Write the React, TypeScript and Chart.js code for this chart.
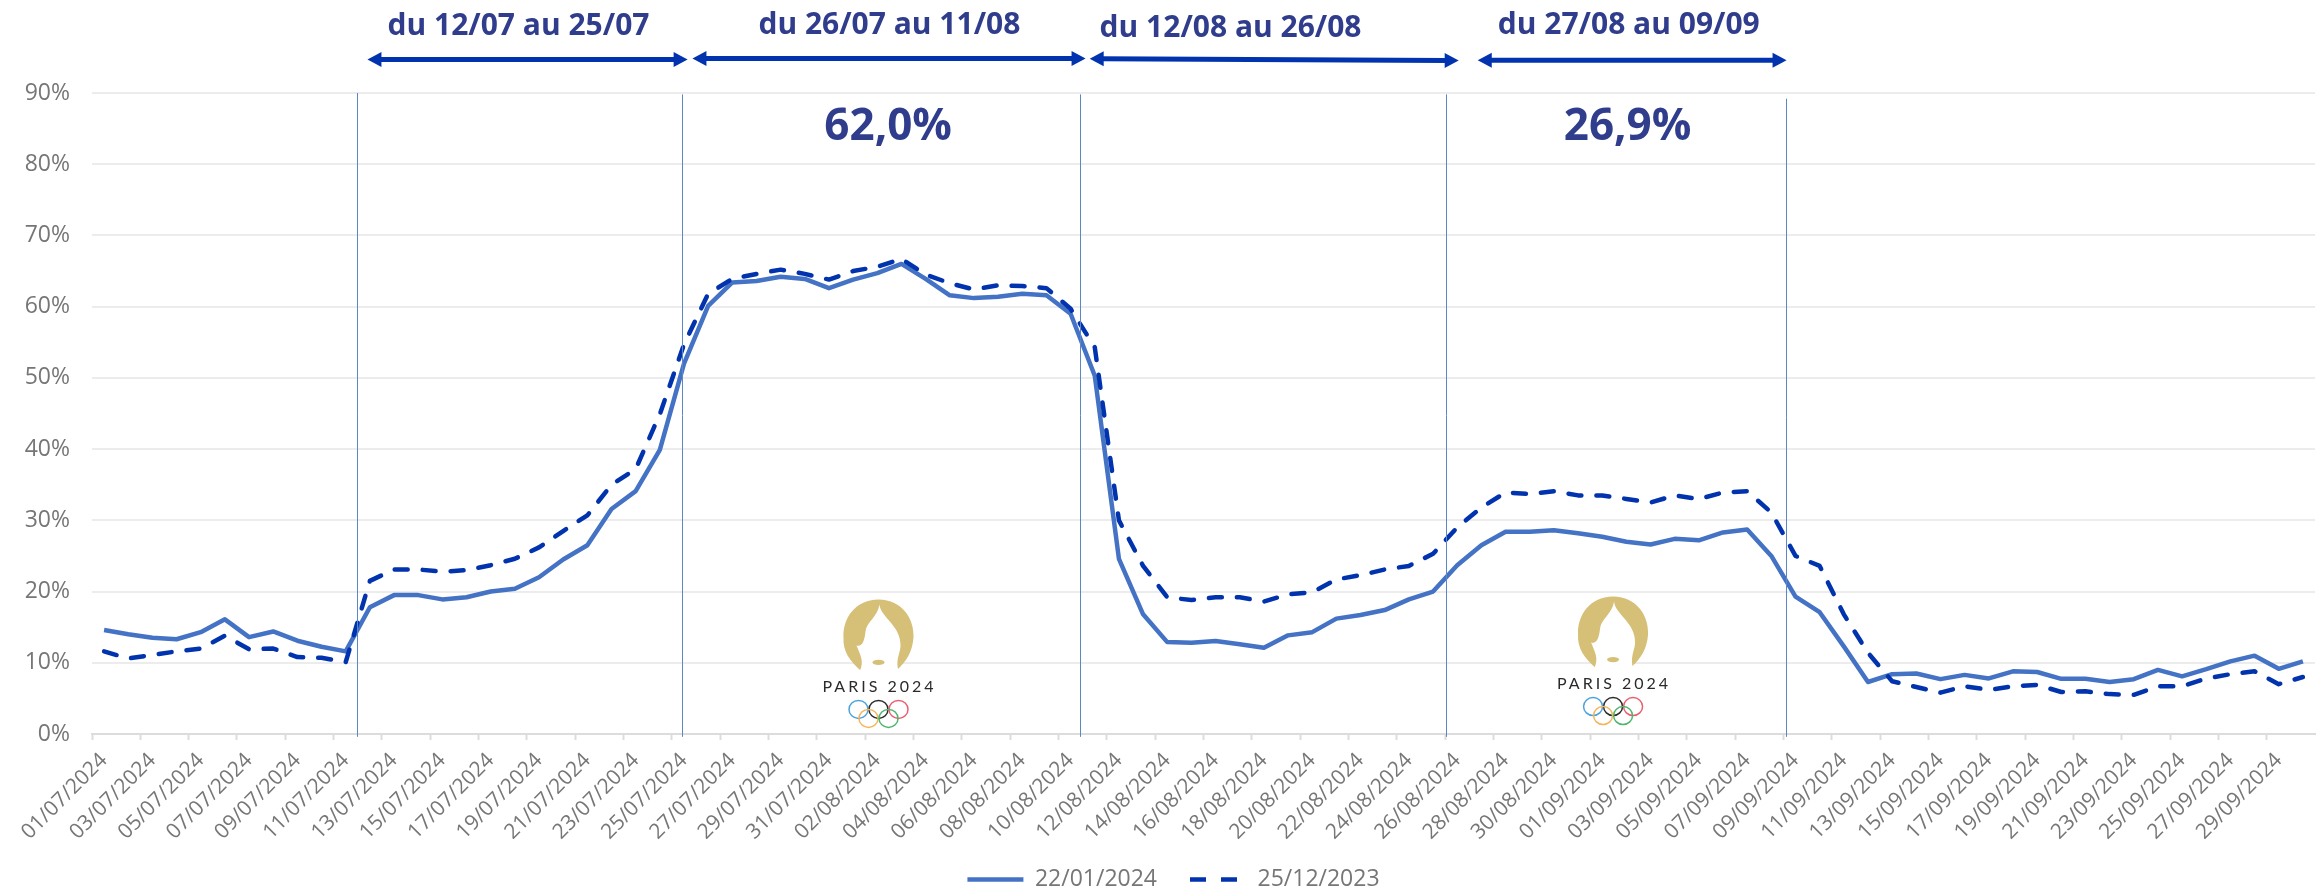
import React, { useEffect, useRef } from "react";
import { Chart, registerables } from "chart.js";

Chart.register(...registerables);

const categories = [
  "01/07/2024","02/07/2024","03/07/2024","04/07/2024","05/07/2024","06/07/2024","07/07/2024","08/07/2024","09/07/2024","10/07/2024",
  "11/07/2024","12/07/2024","13/07/2024","14/07/2024","15/07/2024","16/07/2024","17/07/2024","18/07/2024","19/07/2024","20/07/2024",
  "21/07/2024","22/07/2024","23/07/2024","24/07/2024","25/07/2024","26/07/2024","27/07/2024","28/07/2024","29/07/2024","30/07/2024",
  "31/07/2024","01/08/2024","02/08/2024","03/08/2024","04/08/2024","05/08/2024","06/08/2024","07/08/2024","08/08/2024","09/08/2024",
  "10/08/2024","11/08/2024","12/08/2024","13/08/2024","14/08/2024","15/08/2024","16/08/2024","17/08/2024","18/08/2024","19/08/2024",
  "20/08/2024","21/08/2024","22/08/2024","23/08/2024","24/08/2024","25/08/2024","26/08/2024","27/08/2024","28/08/2024","29/08/2024",
  "30/08/2024","31/08/2024","01/09/2024","02/09/2024","03/09/2024","04/09/2024","05/09/2024","06/09/2024","07/09/2024","08/09/2024",
  "09/09/2024","10/09/2024","11/09/2024","12/09/2024","13/09/2024","14/09/2024","15/09/2024","16/09/2024","17/09/2024","18/09/2024",
  "19/09/2024","20/09/2024","21/09/2024","22/09/2024","23/09/2024","24/09/2024","25/09/2024","26/09/2024","27/09/2024","28/09/2024",
  "29/09/2024","30/09/2024",
];

const series2401 = [
  14.6,14.0,13.5,13.3,14.3,16.1,13.6,14.4,13.1,12.25,
  11.6,17.8,19.5,19.5,18.9,19.2,20.0,20.4,22.0,24.5,
  26.5,31.6,34.1,39.9,52.0,60.1,63.4,63.6,64.2,63.9,
  62.6,63.8,64.7,66.0,63.9,61.6,61.2,61.4,61.8,61.6,
  59.0,50.3,24.6,16.8,12.9,12.8,13.05,12.6,12.1,13.85,
  14.3,16.2,16.7,17.4,18.9,20.0,23.7,26.5,28.4,28.4,
  28.6,28.2,27.7,27.0,26.6,27.4,27.2,28.3,28.7,25.0,
  19.3,17.1,12.3,7.3,8.4,8.5,7.7,8.3,7.8,8.8,
  8.7,7.75,7.75,7.3,7.7,9.0,8.1,9.1,10.2,11.0,
  9.15,10.2,
];

const series2512 = [
  11.6,10.6,11.1,11.6,12.0,13.8,11.9,12.0,10.8,10.7,
  10.1,21.5,23.1,23.1,22.8,23.0,23.7,24.6,26.2,28.5,
  30.7,35.0,37.2,44.9,54.7,61.8,63.9,64.6,65.2,64.6,
  63.8,65.0,65.6,66.7,64.5,63.3,62.4,63.0,62.9,62.6,
  59.7,54.3,30.0,23.6,19.2,18.8,19.2,19.2,18.6,19.6,
  19.9,21.7,22.3,23.1,23.6,25.3,29.0,31.8,33.9,33.7,
  34.1,33.5,33.5,33.0,32.5,33.5,33.0,33.9,34.1,31.1,
  25.0,23.6,16.8,11.4,7.4,6.6,5.8,6.7,6.2,6.7,
  6.9,5.9,6.0,5.6,5.5,6.7,6.7,7.8,8.4,8.8,
  7.0,8.0,
];

const yTicks = [0, 10, 20, 30, 40, 50, 60, 70, 80, 90];
const seriesNames = ["22/01/2024", "25/12/2023"];
const periodLabels = ["du 12/07 au 25/07", "du 26/07 au 11/08", "du 12/08 au 26/08", "du 27/08 au 09/09"];
const periodShares = ["62,0%", "26,9%"];

// Annotation anchors in axis units (fractional category index, axis percent)
const ruleXs = [10.45, 23.93, 40.37, 55.53, 69.6];
const ruleTops = [90, 89.8, 89.8, 89.8, 89.2];
const arrowSpans = [[10.9, 24.15, 94.7, 94.7], [24.35, 40.62, 94.85, 94.85], [40.79, 56.06, 94.8, 94.55], [56.85, 69.63, 94.6, 94.6]];
const labelAnchors = [[17.15, 99.4], [32.5, 99.55], [46.62, 99.1], [63.1, 99.55]];
const shareAnchors = [[32.45, 85.1], [63.05, 85.1]];
const logoAnchors = [[32.05, 18.9], [62.45, 19.3]];

const GREY = "#767676";
const FONT = '"Open Sans"';

function drawArrow(ctx: CanvasRenderingContext2D, x0: number, y0: number, x1: number, y1: number) {
  const head = 14;
  const half = 7.5;
  ctx.strokeStyle = "#0033ad";
  ctx.fillStyle = "#0033ad";
  ctx.lineWidth = 5;
  ctx.beginPath();
  ctx.moveTo(x0 + head - 2, y0);
  ctx.lineTo(x1 - head + 2, y1);
  ctx.stroke();
  ctx.beginPath();
  ctx.moveTo(x0, y0);
  ctx.lineTo(x0 + head, y0 - half);
  ctx.lineTo(x0 + head, y0 + half);
  ctx.closePath();
  ctx.fill();
  ctx.beginPath();
  ctx.moveTo(x1, y1);
  ctx.lineTo(x1 - head, y1 - half);
  ctx.lineTo(x1 - head, y1 + half);
  ctx.closePath();
  ctx.fill();
}

function drawLogo(ctx: CanvasRenderingContext2D, cx: number, top: number) {
  const gold = "#d6c078";
  ctx.save();
  ctx.fillStyle = gold;
  ctx.beginPath();
  ctx.moveTo(cx, top);
  ctx.bezierCurveTo(cx + 24, top, cx + 36, top + 20, cx + 35, top + 38);
  ctx.bezierCurveTo(cx + 34, top + 52, cx + 28, top + 62, cx + 18, top + 71);
  ctx.lineTo(cx - 18, top + 71);
  ctx.bezierCurveTo(cx - 28, top + 62, cx - 36, top + 52, cx - 35, top + 38);
  ctx.bezierCurveTo(cx - 36, top + 20, cx - 24, top, cx, top);
  ctx.closePath();
  ctx.fill();
  ctx.fillStyle = "#ffffff";
  ctx.beginPath();
  ctx.moveTo(cx + 1, top + 5);
  ctx.bezierCurveTo(cx + 2, top + 18, cx + 23, top + 26, cx + 22, top + 47);
  ctx.bezierCurveTo(cx + 21, top + 56, cx + 17, top + 60, cx + 20, top + 72);
  ctx.lineTo(cx - 19, top + 72);
  ctx.bezierCurveTo(cx - 14, top + 62, cx - 18, top + 56, cx - 22, top + 46);
  ctx.bezierCurveTo(cx - 17, top + 48, cx - 14, top + 42, cx - 13, top + 32);
  ctx.bezierCurveTo(cx - 12, top + 22, cx - 1, top + 18, cx + 1, top + 5);
  ctx.closePath();
  ctx.fill();
  ctx.fillStyle = gold;
  ctx.beginPath();
  ctx.ellipse(cx, top + 63, 6, 2.6, 0, 0, Math.PI * 2);
  ctx.fill();
  ctx.fillStyle = "#2a2a2a";
  ctx.font = '16px Lato';
  ctx.textAlign = "center";
  ctx.textBaseline = "middle";
  (ctx as any).letterSpacing = "3px";
  ctx.fillText("PARIS 2024", cx + 1, top + 87);
  (ctx as any).letterSpacing = "0px";
  const rings: [number, number, string][] = [
    [-20, 110, "#4aa3dc"],
    [0, 110, "#2b2b2b"],
    [20, 110, "#e8606f"],
    [-10, 119, "#f4b55a"],
    [10, 119, "#4db56e"],
  ];
  ctx.lineWidth = 1.5;
  for (const [dx, dy, color] of rings) {
    ctx.strokeStyle = color;
    ctx.beginPath();
    ctx.ellipse(cx + dx, top + dy, 9.5, 9, 0, 0, Math.PI * 2);
    ctx.stroke();
  }
  ctx.restore();
}

const annotationsPlugin = {
  id: "periodAnnotations",
  afterLayout(chart: any) {
    // tick labels are clipped to their scale's box; widen the boxes so nothing is cut
    chart.scales.y.left = 0;
    chart.scales.x.bottom = 870;
    chart.legend.left += 2;
  },
  afterDatasetsDraw(chart: any) {
    const { ctx, scales } = chart;
    const x = scales.x;
    const y = scales.y;
    ctx.save();
    ctx.strokeStyle = "#5b87c7";
    ctx.lineWidth = 1;
    ruleXs.forEach((v, i) => {
      const px = Math.round(x.getPixelForValue(v)) + 0.5;
      ctx.beginPath();
      ctx.moveTo(px, y.getPixelForValue(ruleTops[i]));
      ctx.lineTo(px, y.getPixelForValue(-0.4));
      ctx.stroke();
    });
    arrowSpans.forEach(([a, b, c, d]) => {
      drawArrow(ctx, x.getPixelForValue(a), y.getPixelForValue(c), x.getPixelForValue(b), y.getPixelForValue(d));
    });
    ctx.fillStyle = "#2f3d8c";
    ctx.textAlign = "center";
    ctx.textBaseline = "middle";
    ctx.font = `700 30px ${FONT}`;
    periodLabels.forEach((t, i) => {
      ctx.fillText(t, x.getPixelForValue(labelAnchors[i][0]), y.getPixelForValue(labelAnchors[i][1]));
    });
    ctx.font = `700 44px ${FONT}`;
    periodShares.forEach((t, i) => {
      ctx.fillText(t, x.getPixelForValue(shareAnchors[i][0]), y.getPixelForValue(shareAnchors[i][1]));
    });
    logoAnchors.forEach(([a, b]) => drawLogo(ctx, x.getPixelForValue(a), y.getPixelForValue(b)));
    ctx.restore();
  },
};

export default function App() {
  const ref = useRef<HTMLCanvasElement | null>(null);

  useEffect(() => {
    document.body.style.margin = "0";
    const chart = new Chart(ref.current as HTMLCanvasElement, {
      type: "line",
      data: {
        labels: categories,
        datasets: [
          {
            label: seriesNames[0],
            data: series2401,
            borderColor: "#4472c4",
            backgroundColor: "#4472c4",
            borderWidth: 4.5,
            pointRadius: 0,
            pointStyle: "line",
            tension: 0,
            order: 2,
            borderJoinStyle: "round",
          },
          {
            label: seriesNames[1],
            data: series2512,
            borderColor: "#0033ad",
            backgroundColor: "#0033ad",
            borderWidth: 4.5,
            borderDash: [13, 15],
            borderCapStyle: "round",
            pointRadius: 0,
            pointStyle: "line",
            tension: 0,
            order: 1,
            borderJoinStyle: "round",
          },
        ],
      },
      options: {
        animation: false,
        responsive: false,
        events: [],
        layout: { padding: { top: 93, left: 30, right: 8, bottom: -11 } },
        plugins: {
          title: { display: false },
          tooltip: { enabled: false },
          legend: {
            position: "bottom",
            labels: {
              usePointStyle: true,
              pointStyleWidth: 56,
              padding: 33,
              color: GREY,
              font: { family: FONT, size: 23 },
              sort: (a: any, b: any) => a.datasetIndex - b.datasetIndex,
              generateLabels: (chart: any) =>
                Chart.defaults.plugins.legend.labels.generateLabels(chart).map((item: any) => ({
                  ...item,
                  lineWidth: 4.5,
                  lineDash: item.datasetIndex === 1 ? [16, 15] : [],
                  lineCap: "butt",
                })),
            },
          },
        },
        scales: {
          x: {
            type: "category",
            offset: true,
            grid: {
              offset: true,
              drawOnChartArea: false,
              tickLength: 6,
              tickWidth: 2,
              tickColor: (c: any) => (c.index % 2 === 0 ? "#dcdcdc" : "rgba(0,0,0,0)"),
            },
            border: { color: "#dcdcdc", width: 2 },
            ticks: {
              autoSkip: false,
              minRotation: 45,
              maxRotation: 45,
              padding: 8,
              color: GREY,
              font: { family: FONT, size: 21 },
              callback: (_v: any, i: number) => (i % 2 === 0 ? categories[i] : ""),
            },
            afterFit: (s: any) => {
              s.height = 101;
              s.paddingLeft = 0;
              s.paddingRight = 0;
            },
          },
          y: {
            type: "linear",
            min: yTicks[0],
            max: yTicks[yTicks.length - 1],
            afterBuildTicks: (s: any) => {
              s.ticks = yTicks.map((value) => ({ value }));
            },
            grid: { color: "#ececec", lineWidth: 2, drawTicks: false },
            border: { display: false },
            ticks: {
              padding: 22,
              color: GREY,
              font: { family: FONT, size: 23 },
              callback: (v: any) => `${v}%`,
            },
            afterFit: (s: any) => {
              s.width = 62;
            },
          },
        },
      },
      plugins: [annotationsPlugin],
    } as any);
    return () => chart.destroy();
  }, []);

  return (
    <div style={{ width: 2323, height: 890 }}>
      <canvas ref={ref} width={2323} height={890} style={{ display: "block" }} />
    </div>
  );
}
